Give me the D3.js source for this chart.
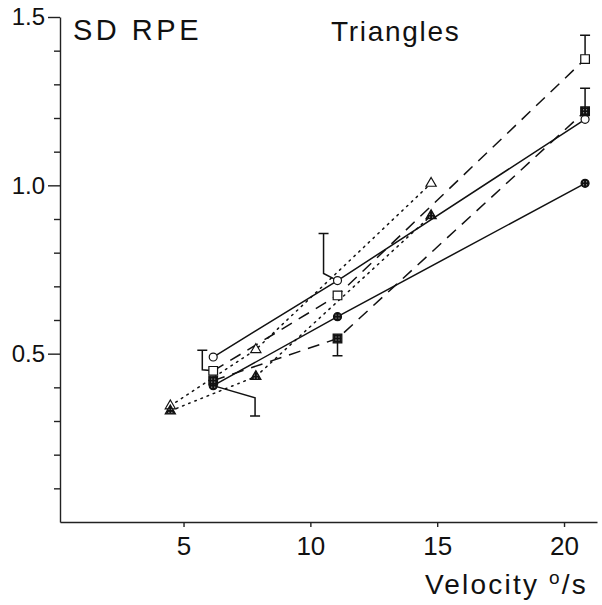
<!DOCTYPE html>
<meta charset="utf-8">
<script src="https://d3js.org/d3.v7.min.js"></script>
<style>
  body { margin: 0; background: #fff; }
  text { font-family: "Liberation Sans", Arial, sans-serif; fill: #111; }
</style>
<div id="chart"></div>
<script>

// velocities (deg/s) for circles & squares, and for triangles
var velCS  = [6.17, 11.07, 20.83];
var velTri = [4.48, 7.85, 14.76];

// SD of RPE
var openCircle     = [0.49, 0.717, 1.196];
var openSquare     = [0.449, 0.673, 1.375];
var openTriangle   = [0.345, 0.512, 1.006];
var filledCircle   = [0.405, 0.61, 1.006];
var filledSquare   = [0.42, 0.545, 1.22];
var filledTriangle = [0.33, 0.432, 0.91];

var xTicks = [5, 10, 15, 20];
var yTicks = [0.5, 1.0, 1.5];
var yMinor = [0.1, 0.2, 0.3, 0.4, 0.6, 0.7, 0.8, 0.9, 1.1, 1.2, 1.3, 1.4];

// error bars: marker index, bar velocity, bar from -> to
var errBars = [
  {vals: openSquare,   vel: velCS, i: 0, bx: 5.74,  from: 0.452, to: 0.51},
  {vals: filledCircle, vel: velCS, i: 0, bx: 7.82,  from: 0.369, to: 0.315},
  {vals: openCircle,   vel: velCS, i: 1, bx: 10.52, from: 0.738, to: 0.857},
  {vals: filledSquare, vel: velCS, i: 1, bx: 11.07, from: 0.545, to: 0.494},
  {vals: openSquare,   vel: velCS, i: 2, bx: 20.83, from: 1.375, to: 1.446},
  {vals: filledSquare, vel: velCS, i: 2, bx: 20.83, from: 1.22,  to: 1.288}
];

var series = [
  {vals: openCircle,     vel: velCS,  shape: "circle",   filled: false, dash: null},
  {vals: filledCircle,   vel: velCS,  shape: "circle",   filled: true,  dash: null},
  {vals: openSquare,     vel: velCS,  shape: "square",   filled: false, dash: "12,8"},
  {vals: filledSquare,   vel: velCS,  shape: "square",   filled: true,  dash: "12,8"},
  {vals: openTriangle,   vel: velTri, shape: "triangle", filled: false, dash: "1.6,5"},
  {vals: filledTriangle, vel: velTri, shape: "triangle", filled: true,  dash: "1.6,5"}
];

var W = 602, H = 605;
var svg = d3.select("#chart").append("svg")
    .attr("width", W).attr("height", H);

// hatch pattern for the dark markers
var pat = svg.append("defs").append("pattern")
    .attr("id", "hatch").attr("patternUnits", "userSpaceOnUse")
    .attr("width", 3).attr("height", 3);
pat.append("rect").attr("width", 3).attr("height", 3).attr("fill", "#111");
pat.append("circle").attr("cx", 1.5).attr("cy", 1.5).attr("r", 0.55).attr("fill", "#ddd");

var x = d3.scaleLinear().domain([0.13, 21.3]).range([60, 597]);
var y = d3.scaleLinear().domain([0, 1.5]).range([522, 17]);

// axes
var gx = svg.append("g")
    .attr("transform", "translate(0," + y(0) + ")")
    .call(d3.axisBottom(x).tickValues(xTicks).tickSize(5).tickSizeOuter(0).tickPadding(10));
gx.selectAll("text").style("font-size", "26px");

var gyMinor = svg.append("g")
    .attr("transform", "translate(" + x(0.13) + ",0)")
    .call(d3.axisLeft(y).tickValues(yMinor).tickSize(6).tickSizeOuter(0).tickFormat(""));
gyMinor.select(".domain").remove();

var gy = svg.append("g")
    .attr("transform", "translate(" + x(0.13) + ",0)")
    .call(d3.axisLeft(y).tickValues(yTicks).tickSize(12).tickSizeOuter(0)
      .tickPadding(3).tickFormat(d3.format(".1f")));
gy.selectAll("text").style("font-size", "24px");

svg.selectAll(".domain, .tick line").attr("stroke", "#222").attr("stroke-width", 1.4);

// titles
svg.append("text").attr("x", 73).attr("y", 40)
    .style("font-size", "29px").style("letter-spacing", "3.5px").text("SD RPE");
svg.append("text").attr("x", 331).attr("y", 41)
    .style("font-size", "28px").style("letter-spacing", "1.7px").text("Triangles");
var xl = svg.append("text").attr("x", 425).attr("y", 594)
    .style("font-size", "28px").style("letter-spacing", "2.2px").text("Velocity ");
xl.append("tspan").attr("dy", -10).style("font-size", "19px").text("o");
xl.append("tspan").attr("dy", 10).text("/s");

// lines
var line = d3.line()
    .x(function(d) { return x(d[0]); })
    .y(function(d) { return y(d[1]); });

svg.selectAll(".series").data(series).enter().append("path")
    .attr("d", function(s) { return line(s.vals.map(function(v, i) { return [s.vel[i], v]; })); })
    .attr("fill", "none").attr("stroke", "#111").attr("stroke-width", 1.5)
    .attr("stroke-dasharray", function(s) { return s.dash; })
    .attr("stroke-linecap", function(s) { return s.shape === "triangle" ? "round" : "butt"; });

// error bars with leader lines
var eb = svg.selectAll(".eb").data(errBars).enter().append("g");
eb.append("path")
    .attr("d", function(e) {
      var mx = x(e.vel[e.i]), my = y(e.vals[e.i]);
      var bx = x(e.bx);
      return "M" + mx + "," + my + "L" + bx + "," + y(e.from) +
             "L" + bx + "," + y(e.to) +
             "M" + (bx - 5) + "," + y(e.to) + "L" + (bx + 5) + "," + y(e.to);
    })
    .attr("fill", "none").attr("stroke", "#111").attr("stroke-width", 1.5);

// markers
var sym = {circle: d3.symbolCircle, square: d3.symbolSquare, triangle: d3.symbolTriangle};
var size = {circle: 50, square: 75, triangle: 45};
series.forEach(function(s) {
  svg.selectAll(null).data(s.vals).enter().append("path")
    .attr("transform", function(v, i) { return "translate(" + x(s.vel[i]) + "," + y(v) + ")"; })
    .attr("d", d3.symbol().type(sym[s.shape]).size(size[s.shape]))
    .attr("fill", s.filled ? "url(#hatch)" : "#fff")
    .attr("stroke", "#111").attr("stroke-width", 1.2);
});

</script>
